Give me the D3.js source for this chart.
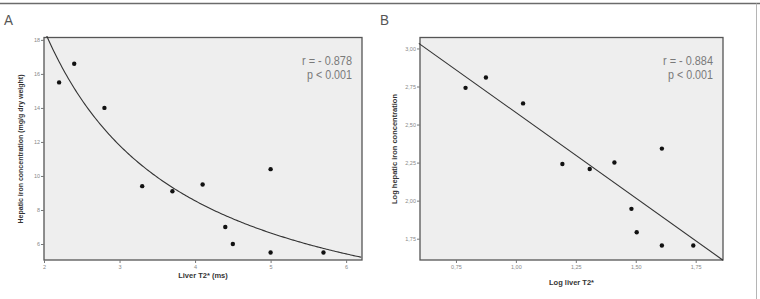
<!doctype html>
<meta charset="utf-8">
<style>
body {
  margin: 0;
  background: #fff;
  font-family: "Liberation Sans", Arial, sans-serif;
}
</style>
<script src="https://cdn.jsdelivr.net/npm/d3@7"></script>
<body>

<script>

// panel A: liver T2* (ms) vs hepatic iron (mg/g dry weight)
var t2 = [2.2, 2.4, 2.8, 3.3, 3.7, 4.1, 4.4, 4.5, 5.0, 5.0, 5.7];
var lic = [15.5, 16.6, 14.0, 9.4, 9.1, 9.5, 7.0, 6.0, 10.4, 5.5, 5.5];

// panel B: same patients, natural log of both
var logT2 = [0.79, 0.875, 1.03, 1.194, 1.308, 1.411, 1.482, 1.504, 1.609, 1.609, 1.74];
var logLic = [2.741, 2.809, 2.639, 2.241, 2.208, 2.251, 1.946, 1.792, 2.342, 1.705, 1.705];

var ticksAx = [2, 3, 4, 5, 6];
var ticksAy = [6, 8, 10, 12, 14, 16, 18];
var ticksBx = [0.75, 1.00, 1.25, 1.50, 1.75];
var ticksBy = [1.75, 2.00, 2.25, 2.50, 2.75, 3.00];

var statsA = ["r = - 0.878", "p < 0.001"];
var statsB = ["r = - 0.884", "p < 0.001"];

var w = 760, h = 299;

var svg = d3.select("body")
  .append("svg")
    .attr("width", w)
    .attr("height", h);

// frame pieces of the page the figure sits in
svg.append("line")
    .attr("x1", 0).attr("x2", w)
    .attr("y1", 3.5).attr("y2", 3.5)
    .style("stroke", "#6b6b6b")
    .style("stroke-width", 1.5);
svg.append("line")
    .attr("x1", 756.5).attr("x2", 756.5)
    .attr("y1", 3.5).attr("y2", h)
    .style("stroke", "#b5b5b5")
    .style("stroke-width", 1);

// least squares on the log data, used by both panels
var mx = d3.mean(logT2), my = d3.mean(logLic);
var sxy = d3.sum(logT2, function(d, i) { return (d - mx) * (logLic[i] - my); });
var sxx = d3.sum(logT2, function(d) { return (d - mx) * (d - mx); });
var slope = sxy / sxx;
var icpt = my - slope * mx;

var comma = d3.formatLocale({decimal: ",", thousands: ".", grouping: [3], currency: ["", ""]});

function panel(o) {
  var g = svg.append("g");

  var x = d3.scaleLinear().domain(o.xd).range([o.x0, o.x1]);
  var y = d3.scaleLinear().domain(o.yd).range([260, 37.5]);

  g.append("text")
      .attr("x", o.x0 - 40)
      .attr("y", 25)
      .attr("textLength", 9)
      .attr("lengthAdjust", "spacingAndGlyphs")
      .style("font-size", "14px")
      .style("font-weight", 300)
      .style("fill", "#555")
      .text(o.label);

  g.append("rect")
      .attr("x", o.x0)
      .attr("y", 37.5)
      .attr("width", o.x1 - o.x0)
      .attr("height", 260 - 37.5)
      .style("fill", "#eeeeee")
      .style("stroke", "#555")
      .style("stroke-width", 1.3);

  var clipId = "clip" + o.label;
  svg.append("defs").append("clipPath")
      .attr("id", clipId)
    .append("rect")
      .attr("x", o.x0 - 3)
      .attr("y", 36)
      .attr("width", o.x1 - o.x0 + 3)
      .attr("height", 225);

  // axes
  var ax = g.append("g")
      .attr("transform", "translate(0,260)")
      .call(d3.axisBottom(x).tickValues(o.tx).tickSize(3).tickPadding(2).tickFormat(o.fmtx));
  var ay = g.append("g")
      .attr("transform", "translate(" + o.x0 + ",0)")
      .call(d3.axisLeft(y).tickValues(o.ty).tickSize(3).tickPadding(1).tickFormat(o.fmty));
  [ax, ay].forEach(function(a) {
    a.select(".domain").remove();
    a.selectAll("line").style("stroke", "#777");
    a.selectAll("text")
        .style("font-size", "5.5px")
        .style("fill", "#888")
        .style("font-family", "'Liberation Sans', sans-serif");
  });

  // fit
  g.append("path")
      .datum(o.fit)
      .attr("clip-path", "url(#" + clipId + ")")
      .attr("d", d3.line().x(function(d) { return x(d[0]); }).y(function(d) { return y(d[1]); }))
      .style("fill", "none")
      .style("stroke", "#333")
      .style("stroke-width", 1.1);

  g.selectAll("circle")
      .data(o.xs)
    .enter().append("circle")
      .attr("cx", function(d) { return x(d); })
      .attr("cy", function(d, i) { return y(o.ys[i]); })
      .attr("r", 2.2)
      .style("fill", "#111");

  // condensed look: squeeze the stats text
  g.selectAll(".stat")
      .data(o.stats)
    .enter().append("text")
      .attr("class", "stat")
      .attr("x", o.x1 - 10)
      .attr("y", function(d, i) { return 65 + i * 14; })
      .attr("text-anchor", "end")
      .attr("textLength", function(d, i) { return i ? 45 : 50; })
      .attr("lengthAdjust", "spacingAndGlyphs")
      .style("font-size", "12px")
      .style("fill", "#7a7a7a")
      .text(function(d) { return d; });

  g.append("text")
      .attr("x", (o.x0 + o.x1) / 2)
      .attr("y", o.xty)
      .attr("text-anchor", "middle")
      .style("font-size", "7.5px")
      .style("font-weight", "bold")
      .style("fill", "#333")
      .text(o.xt);

  g.append("text")
      .attr("transform", "translate(" + o.ytx + ",149) rotate(-90)")
      .attr("text-anchor", "middle")
      .style("font-size", o.ytSize)
      .style("font-weight", "bold")
      .style("fill", "#333")
      .text(o.yt);
}

// power curve for A = exp of the log-log line
var fitA = d3.range(2, 6.22, 0.02).map(function(v) {
  return [v, Math.exp(icpt) * Math.pow(v, slope)];
});
var fitB = [0.595, 1.864].map(function(v) { return [v, icpt + slope * v]; });

panel({
  label: "A", x0: 44, x1: 362,
  xd: [2, 6.21], yd: [5.06, 18.14],
  tx: ticksAx, ty: ticksAy,
  fmtx: d3.format("d"), fmty: d3.format("d"),
  xs: t2, ys: lic, fit: fitA, stats: statsA,
  xt: "Liver T2* (ms)", xty: 278,
  yt: "Hepatic iron concentration (mg/g dry weight)", ytx: 23, ytSize: "7px"
});

panel({
  label: "B", x0: 420, x1: 723,
  xd: [0.6, 1.864], yd: [1.61, 3.072],
  tx: ticksBx, ty: ticksBy,
  fmtx: comma.format(".2f"), fmty: comma.format(".2f"),
  xs: logT2, ys: logLic, fit: fitB, stats: statsB,
  xt: "Log liver T2*", xty: 285,
  yt: "Log hepatic iron concentration", ytx: 397, ytSize: "7.5px"
});

</script>
